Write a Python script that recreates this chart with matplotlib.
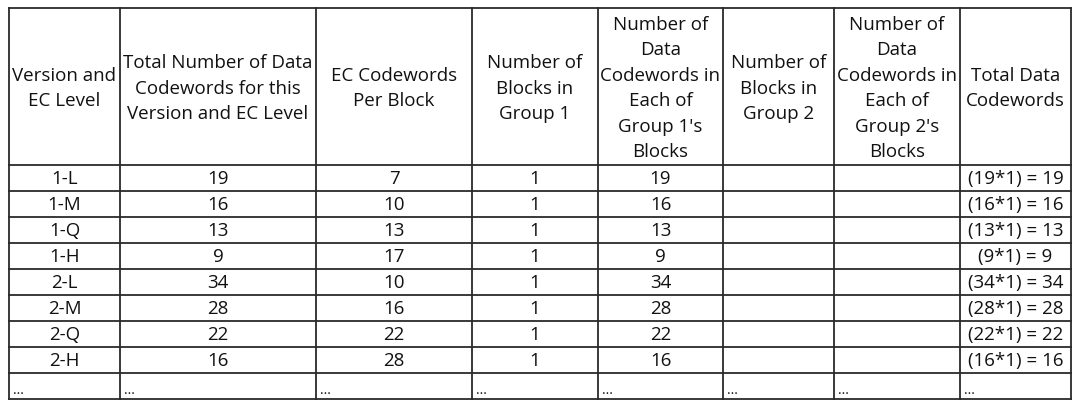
import matplotlib
matplotlib.use("Agg")
import matplotlib.pyplot as plt

# ---- data ----
headers = [
    "Version and\nEC Level",
    "Total Number of Data\nCodewords for this\nVersion and EC Level",
    "EC Codewords\nPer Block",
    "Number of\nBlocks in\nGroup 1",
    "Number of\nData\nCodewords in\nEach of\nGroup 1's\nBlocks",
    "Number of\nBlocks in\nGroup 2",
    "Number of\nData\nCodewords in\nEach of\nGroup 2's\nBlocks",
    "Total Data\nCodewords",
]
versions = ["1-L", "1-M", "1-Q", "1-H", "2-L", "2-M", "2-Q", "2-H"]
total_data = [19, 16, 13, 9, 34, 28, 22, 16]
ec_per_block = [7, 10, 13, 17, 10, 16, 22, 28]
blocks_g1 = [1, 1, 1, 1, 1, 1, 1, 1]
data_per_block_g1 = [19, 16, 13, 9, 34, 28, 22, 16]
blocks_g2 = ["", "", "", "", "", "", "", ""]
data_per_block_g2 = ["", "", "", "", "", "", "", ""]
total_data_text = [f"({d}*{b}) = {d*b}" for d, b in zip(data_per_block_g1, blocks_g1)]

# ---- layout (pixels) ----
W, H = 1080, 410
col_edges = [9, 120, 316, 472, 598, 723, 834, 960, 1071]
header_top, header_bottom = 9, 166
row_h = 26
n_rows = len(versions) + 1  # plus ellipsis row

fig = plt.figure(figsize=(W / 100, H / 100), dpi=100)
ax = fig.add_axes([0, 0, 1, 1])
ax.set_xlim(0, W)
ax.set_ylim(H, 0)
ax.axis("off")

font = dict(family=["Open Sans", "DejaVu Sans"], fontsize=13.5, color="#111111")
line_color = "#2a2a2a"
lw = 1.3

row_edges = [header_bottom + i * row_h for i in range(n_rows + 1)]
bottom = row_edges[-1]

# grid lines
for x in col_edges:
    ax.plot([x, x], [header_top, bottom], color=line_color, lw=lw, solid_capstyle="projecting")
for y in [header_top] + row_edges:
    ax.plot([col_edges[0], col_edges[-1]], [y, y], color=line_color, lw=lw, solid_capstyle="projecting")

# header
for i, h in enumerate(headers):
    cx = (col_edges[i] + col_edges[i + 1]) / 2
    cy = (header_top + header_bottom) / 2 + 1
    ax.text(cx, cy, h, ha="center", va="center", linespacing=1.53, **font)

# body
columns = [versions, total_data, ec_per_block, blocks_g1, data_per_block_g1,
           blocks_g2, data_per_block_g2, total_data_text]
for r in range(len(versions)):
    cy = (row_edges[r] + row_edges[r + 1]) / 2 + 0.5
    for c, col in enumerate(columns):
        cx = (col_edges[c] + col_edges[c + 1]) / 2
        ax.text(cx, cy, str(col[r]), ha="center", va="center", **font)

# ellipsis row
cy = (row_edges[-2] + row_edges[-1]) / 2
for c in range(len(headers)):
    ax.text(col_edges[c] + 4, cy + 4, "...", ha="left", va="center",
            family=["Open Sans", "DejaVu Sans"], fontsize=10, color="#111111")

fig.savefig("out.png", dpi=100)
